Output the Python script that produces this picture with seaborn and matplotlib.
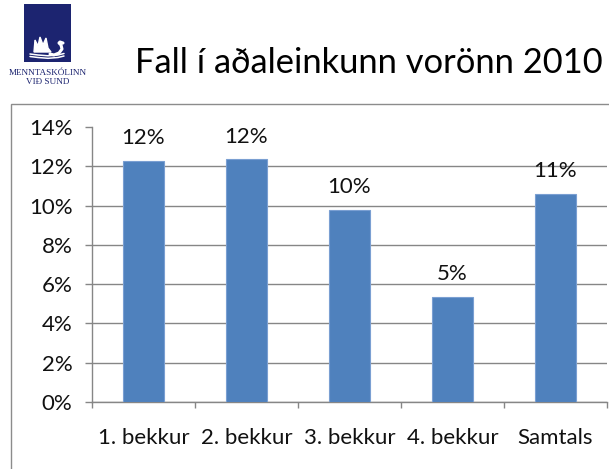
import numpy as np
import pandas as pd
import matplotlib
matplotlib.use('Agg')
import matplotlib.pyplot as plt
import matplotlib.ticker as mtick
from matplotlib.patches import Rectangle, Polygon
import seaborn as sns

sns.set_style('white')
plt.rcParams['font.family'] = ['Lato', 'DejaVu Sans']

# data
categories = ['1. bekkur', '2. bekkur', '3. bekkur', '4. bekkur', 'Samtals']
fall_rate = [0.1229, 0.1236, 0.0978, 0.0536, 0.1059]
y_ticks = [0.0, 0.02, 0.04, 0.06, 0.08, 0.10, 0.12, 0.14]

title = 'Fall í aðaleinkunn vorönn 2010'
logo_lines = ['MENNTASKÓLINN', 'VIÐ SUND']

df = pd.DataFrame({'Bekkur': categories, 'Fall': fall_rate})

W, H = 609, 469
fig = plt.figure(figsize=(W / 100, H / 100), dpi=100)

# chart frame
fig.patches.append(Rectangle((11 / W, -0.01), 1.0, (H - 104) / H + 0.01,
                             transform=fig.transFigure, fill=False,
                             edgecolor='#8c8c8c', lw=1))

# logo
lax = fig.add_axes([24 / W, (H - 62) / H, 47 / W, 58 / H])
lax.set_xlim(0, 47)
lax.set_ylim(0, 58)
lax.axis('off')
lax.add_patch(Rectangle((0, 0), 47, 58, color='#1c2470'))
wings = [(10, 10), (11, 22), (14, 16), (16, 25), (19, 17), (22, 24), (24, 14), (27, 10)]
lax.add_patch(Polygon(wings, closed=True, color='white'))
neck_x = [26, 30, 35, 38, 37, 35, 36, 39]
neck_y = [8, 7, 9, 13, 17, 19, 20, 19]
lax.plot(neck_x, neck_y, color='white', lw=2.2, solid_capstyle='round')
for yy in [7, 4.5]:
    lax.plot([6, 14, 24, 34, 40], [yy + 1, yy, yy - 0.8, yy, yy + 1.5], color='white', lw=1.1)
fig.text(48 / W, (H - 73) / H, logo_lines[0], ha='center', va='center',
         fontsize=6.6, family='Liberation Serif', color='#1c2470')
fig.text(48 / W, (H - 82) / H, logo_lines[1], ha='center', va='center',
         fontsize=6.6, family='Liberation Serif', color='#1c2470')

fig.text(135 / W, (H - 73) / H, title, ha='left', va='baseline', fontsize=24.8, color='black')

# bar chart
ax = fig.add_axes([92 / W, 67 / H, 515 / W, 275 / H])
sns.barplot(data=df, x='Bekkur', y='Fall', color='#4F81BD', width=0.4,
            saturation=1, edgecolor='#7a9fd2', linewidth=0.8, ax=ax, zorder=3)

ax.set_ylim(0, 0.14)
ax.set_xlim(-0.5, len(categories) - 0.5)
ax.set_yticks(y_ticks)
ax.yaxis.set_major_formatter(mtick.PercentFormatter(1.0, decimals=0))
ax.set_xlabel('')
ax.set_ylabel('')

ax.set_axisbelow(True)
ax.yaxis.grid(True, color='#868686', lw=1)
ax.yaxis.get_gridlines()[-1].set_visible(False)

for side in ['top', 'right']:
    ax.spines[side].set_visible(False)
for side in ['left', 'bottom']:
    ax.spines[side].set_color('#868686')
    ax.spines[side].set_linewidth(1)

ax.tick_params(axis='y', direction='out', length=5, width=1, color='#868686',
               pad=9, labelsize=16, labelcolor='#111111', left=True)
ax.tick_params(axis='x', which='major', length=0, pad=19, labelsize=16,
               labelcolor='#111111')
ax.set_xticks(np.arange(-0.5, len(categories), 1.0), minor=True)
ax.tick_params(axis='x', which='minor', direction='out', length=4.5, width=1,
               color='#868686', bottom=True)

for i, v in enumerate(fall_rate):
    ax.annotate('{}%'.format(int(round(v * 100))), (i, v), xytext=(0, 9),
                textcoords='offset points', ha='center', va='bottom',
                fontsize=16, color='#111111')

fig.savefig('out.png', dpi=100)
